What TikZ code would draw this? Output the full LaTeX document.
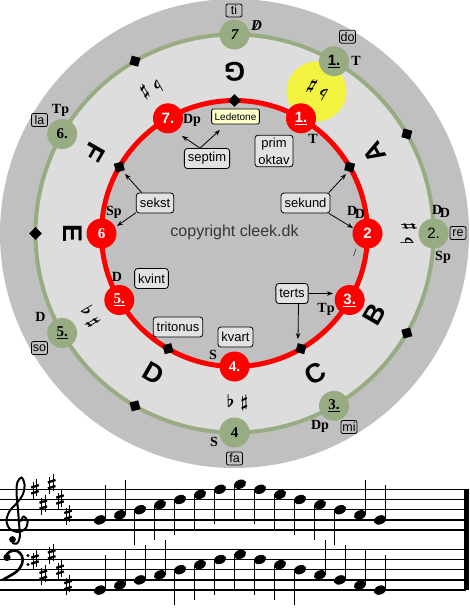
\documentclass[tikz,border=0pt]{standalone}
\usepackage{fontspec}
\setmainfont{Liberation Serif}
\setsansfont{Liberation Sans}
\usetikzlibrary{arrows.meta}
\definecolor{ringgray}{RGB}{192,192,192}
\definecolor{bandgray}{RGB}{221,221,221}
\definecolor{grn}{RGB}{152,172,132}
\definecolor{ylw}{RGB}{242,242,64}
\definecolor{boxgray}{RGB}{226,226,226}
\definecolor{ledeyel}{RGB}{255,255,204}
\definecolor{copyc}{RGB}{55,55,55}
\tikzset{
 rednode/.style={circle, fill=red, minimum size=30pt, inner sep=0pt, text=white, font=\sffamily\bfseries\fontsize{15}{15}\selectfont},
 grnnode/.style={circle, fill=grn, minimum size=30pt, inner sep=0pt, text=black, font=\sffamily\bfseries\fontsize{15}{15}\selectfont},
 dia/.style={rectangle, fill=black, minimum size=9pt, inner sep=0pt},
 func/.style={font=\rmfamily\bfseries\fontsize{14}{14}\selectfont, inner sep=0pt},
 solf/.style={draw=black, line width=0.8pt, rounded corners=2pt, inner sep=1pt, minimum width=16pt, minimum height=13pt, font=\sffamily\fontsize{12.5}{12.5}\selectfont},
 ibox/.style={draw=black, line width=0.8pt, fill=boxgray, rounded corners=3pt, inner xsep=3.5pt, inner ysep=2pt, minimum height=20pt, align=center, font=\sffamily\fontsize{13}{17}\selectfont},
 bigl/.style={font=\sffamily\bfseries\fontsize{27}{27}\selectfont, inner sep=0pt},
 acc/.style={font=\boldmath\fontsize{17}{17}\selectfont, inner sep=0pt},
 arr/.style={-{Stealth[length=6pt,width=4.5pt]}, line width=0.8pt},
 staffline/.style={line width=1.3pt},
 stemline/.style={line width=1pt},
 sharpsign/.pic={
   \draw[line width=0.9pt] (-1.8,-7) -- (-1.8,10);
   \draw[line width=0.9pt] (1.8,-10) -- (1.8,7);
   \draw[line width=2.3pt] (-3.8,-1.8) -- (3.8,-4.2);
   \draw[line width=2.3pt] (-3.8,4.2) -- (3.8,1.8);
 },
}
\begin{document}
\begin{tikzpicture}[x=1pt,y=-1pt]
\useasboundingbox (0,0) rectangle (469,615);
\fill[white] (0,0) rectangle (469,615);
\coordinate (O) at (234.5,233.5);
% discs
\fill[ringgray] (O) circle[radius=234.5pt];
\fill[bandgray] (O) circle[radius=199pt];
\fill[ringgray] (O) circle[radius=133pt];
\fill[ylw] ([shift={(60:164pt)}]O) circle[radius=30pt];
\draw[grn, line width=4pt] (O) circle[radius=199pt];
\draw[red, line width=5pt] (O) circle[radius=133pt];
% letters
\foreach \a/\t in {90/G,30/A,-30/B,-60/C,-120/D,180/E,150/F}
  \node[bigl, rotate=\a+90] (L\t) at ([shift={(\a:162pt)}]O) {\t};
% accidental pairs
\foreach \a/\r in {60/166,120/167,0/174,-150/167,-89/169}
  \node[acc, rotate=\a+90] (P\a) at ([shift={(\a:\r pt)}]O) {$\flat$\hspace{6pt}$\sharp$};
% diamonds
\foreach \a in {90,30,150,-60,-120}
  \node[dia, rotate=\a+45] (rd\a) at ([shift={(\a:133pt)}]O) {};
\foreach \a in {30,-30,-120,180,120}
  \node[dia, rotate=\a+45] (gd\a) at ([shift={(\a:199pt)}]O) {};
% red nodes
\node[rednode] (r1) at ([shift={(60:133pt)}]O) {\underline{1.}};
\node[rednode] (r2) at ([shift={(0:133pt)}]O) {2};
\node[rednode] (r3) at ([shift={(-30:133pt)}]O) {\underline{3.}};
\node[rednode] (r4) at ([shift={(-90:133pt)}]O) {\rmfamily 4.};
\node[rednode] (r5) at ([shift={(-150:133pt)}]O) {\rmfamily\underline{5.}};
\node[rednode] (r6) at ([shift={(180:133pt)}]O) {\rmfamily 6};
\node[rednode] (r7) at ([shift={(120:133pt)}]O) {7.};
% green nodes
\node[grnnode] (g1) at ([shift={(60:199pt)}]O) {\underline{1.}};
\node[grnnode] (g2) at ([shift={(0:199pt)}]O) {\mdseries 2.};
\node[grnnode] (g3) at ([shift={(-60:199pt)}]O) {\rmfamily\underline{3.}};
\node[grnnode] (g4) at ([shift={(-90:199pt)}]O) {\rmfamily 4};
\node[grnnode] (g5) at ([shift={(-150:199pt)}]O) {\rmfamily\underline{5.}};
\node[grnnode] (g6) at ([shift={(150:199pt)}]O) {\rmfamily 6.};
\node[grnnode] (g7) at ([shift={(90:199pt)}]O) {\rmfamily\itshape 7};
% solfege boxes
\node[solf] (sti) at (234,10.5) {ti};
\node[solf] (sdo) at (347.5,36.7) {do};
\node[solf] (sre) at (458,233) {re};
\node[solf] (smi) at (349,427) {mi};
\node[solf] (sfa) at (234.5,458.5) {fa};
\node[solf] (sso) at (39.5,348) {so};
\node[solf] (sla) at (39.5,120) {la};
% function labels green
\node[func, font=\rmfamily\bfseries\fontsize{15}{15}\selectfont] (fg7) at (256.5,26) {\itshape\ooalign{D\cr\hidewidth/\hidewidth\cr}};
\node[func] (fg1) at (356,61) {T};
\node[func] (fg2a) at (441,211) {D\kern-2.5pt\raisebox{-3pt}{D}};
\node[func] (fg2b) at (443,257) {Sp};
\node[func] (fg3) at (320,426) {Dp};
\node[func] (fg4) at (214,442) {S};
\node[func] (fg5) at (40.5,317) {D};
\node[func] (fg6) at (60.5,110) {Tp};
% function labels red
\node[func] (fr7) at (192,120) {Dp};
\node[func] (fr1) at (313,139) {T};
\node[func] (fr2) at (356,212) {D\kern-2.5pt\raisebox{-3pt}{D}};
\node[func, font=\rmfamily\fontsize{11}{11}\selectfont] (fr2s) at (355,253) {/};
\node[func] (fr3) at (326,309) {Tp};
\node[func] (fr4) at (213,355) {S};
\node[func] (fr5) at (117,277) {D};
\node[func] (fr6) at (114,212) {Sp};
% inner boxes
\node[draw=black, line width=0.8pt, fill=ledeyel, rounded corners=2pt, inner xsep=3pt, inner ysep=1.5pt, minimum height=15pt, font=\sffamily\fontsize{10}{10}\selectfont] (lede) at (235.5,116.5) {Ledetone};
\node[ibox] (septim) at (207,158.5) {septim};
\node[ibox, inner ysep=2.5pt] (prim) at (274,151) {prim\\oktav};
\node[ibox] (sekund) at (305.5,203) {sekund};
\node[ibox] (sekst) at (155,203) {sekst};
\node[ibox] (terts) at (292,293.5) {terts};
\node[ibox] (kvart) at (235.5,337) {kvart};
\node[ibox] (tritonus) at (178,327) {tritonus};
\node[ibox] (kvint) at (151.5,278.5) {kvint};
\node[font=\sffamily\fontsize{16}{16}\selectfont, text=copyc] (copy) at (234.5,232) {copyright cleek.dk};
% arrows
\coordinate (e7) at (182,136);
\coordinate (eL) at (220,130);
\coordinate (e150) at (125,174);
\coordinate (e6) at (117,226);
\coordinate (e30) at (346,174);
\coordinate (e2) at (353,228);
\coordinate (e3) at (333,293.5);
\coordinate (em60) at (298,339);
\draw[arr] (septim.124) -- (e7);
\draw[arr] (septim.124) -- (eL);
\draw[arr] (sekst.142) -- (e150);
\draw[arr] (sekst.207) -- (e6);
\draw[arr] (sekund.24) -- (e30);
\draw[arr] (sekund.-24) -- (e2);
\draw[arr] (terts.east) -- (e3);
\draw[arr] (terts.-58) -- (em60);
% staff
\foreach \i in {0,...,4} {
  \draw[staffline] (0,{489.3+10.2*\i}) -- (466,{489.3+10.2*\i});
  \draw[staffline] (0,{549.3+10.2*\i}) -- (466,{549.3+10.2*\i});
}
\draw[line width=1.1pt] (465,489.3) -- (465,590.1);
\draw[line width=2.8pt] (467.6,489.3) -- (467.6,590.1);
% clefs
\draw[line width=2pt, line cap=round] plot[smooth, tension=0.55] coordinates {(21,521) (23.5,516.5) (27.5,521) (25.5,528.5) (18,532) (9.5,528.5) (6.5,520) (10,510.5) (17,503) (23,494) (24.5,484) (21.5,477.5) (17.5,482) (16.5,492) (18,510) (19.2,525) (19.8,537) (17,543.5) (12.5,543)};
\fill (12.5,539.5) circle[radius=3.4pt];
\draw[line width=2.6pt] plot[smooth, tension=0.6] coordinates {(5,557) (10,551.5) (17,551) (22,556) (22,564) (16,572) (3,579.5)};
\fill (7,557.5) circle[radius=3.6pt];
\fill (28,555.5) circle[radius=1.7pt];
\fill (28,564.5) circle[radius=1.7pt];
% key signatures
\foreach \x/\yt/\yb in {35/489.3/559.5, 43.3/504.6/574.8, 51.7/484.2/554.4, 60/499.5/569.7, 68/514.8/585}{
  \pic at (\x,\yt) {sharpsign};
  \pic at (\x,\yb) {sharpsign};
}
% notes
\foreach \i/\k in {0/0,1/1,2/2,3/3,4/4,5/5,6/6,7/7,8/6,9/5,10/4,11/3,12/2,13/1,14/0}{
  \pgfmathsetmacro\xx{100+20*\i}
  \pgfmathsetmacro\ty{519.9-5.1*\k}
  \pgfmathsetmacro\by{590.1-5.1*\k}
  \fill[rotate around={22:(\xx,\ty)}] (\xx,\ty) ellipse[x radius=6.4pt, y radius=4.4pt];
  \fill[rotate around={22:(\xx,\by)}] (\xx,\by) ellipse[x radius=6.4pt, y radius=4.4pt];
  \ifnum\k<2
    \draw[stemline] ({\xx+5.8},\ty) -- ({\xx+5.8},{\ty-35});
  \else
    \draw[stemline] ({\xx-5.8},\ty) -- ({\xx-5.8},{\ty+35});
  \fi
  \ifnum\k<4
    \draw[stemline] ({\xx+5.8},\by) -- ({\xx+5.8},{\by-35});
  \else
    \draw[stemline] ({\xx-5.8},\by) -- ({\xx-5.8},{\by+35});
  \fi
}
\end{tikzpicture}
\end{document}
